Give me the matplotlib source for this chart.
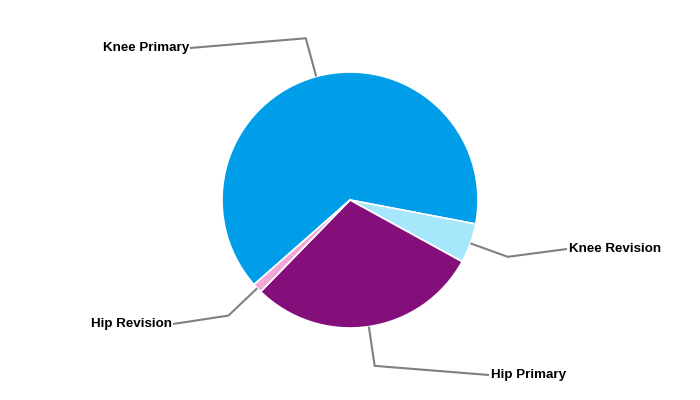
import numpy as np
import matplotlib.pyplot as plt

labels = ['Knee Primary', 'Knee Revision', 'Hip Primary', 'Hip Revision']
values = [64.5, 5.0, 29.3, 1.2]
colors = ['#009EE8', '#A6E7FB', '#850F7A', '#F2A7D8']

# label anchor positions (pixels, y from top) and alignment
label_pos = [(190, 48), (567, 249), (489, 375), (173, 324)]
label_ha = ['right', 'left', 'left', 'right']

W, H = 700, 400
cx, cy, r = 350, 200, 128

fig = plt.figure(figsize=(7, 4), dpi=100)
ax = fig.add_axes([0, 0, 1, 1])

wedges, _ = ax.pie(values, colors=colors, center=(cx, H - cy), radius=r,
                   startangle=221.4, counterclock=False,
                   wedgeprops=dict(edgecolor='white', linewidth=1.2),
                   frame=True)
ax.set_xlim(0, W)
ax.set_ylim(0, H)
ax.axis('off')

for w, lab, (lx, ly), ha in zip(wedges, labels, label_pos, label_ha):
    mid = np.deg2rad((w.theta1 + w.theta2) / 2)
    x0 = cx + r * np.cos(mid)
    y0 = (H - cy) + r * np.sin(mid)
    x1 = cx + r * 1.31 * np.cos(mid)
    y1 = (H - cy) + r * 1.31 * np.sin(mid)
    ax.plot([x0, x1, lx], [y0, y1, H - ly], color='#808080', lw=1.5,
            solid_capstyle='butt', zorder=1)
    tx = lx + (-1 if ha == 'right' else 2)
    ax.text(tx, H - ly, lab, ha=ha, va='center', fontsize=9.6,
            fontweight='bold', family='Liberation Sans', color='black')

fig.savefig('out.png', dpi=100)
